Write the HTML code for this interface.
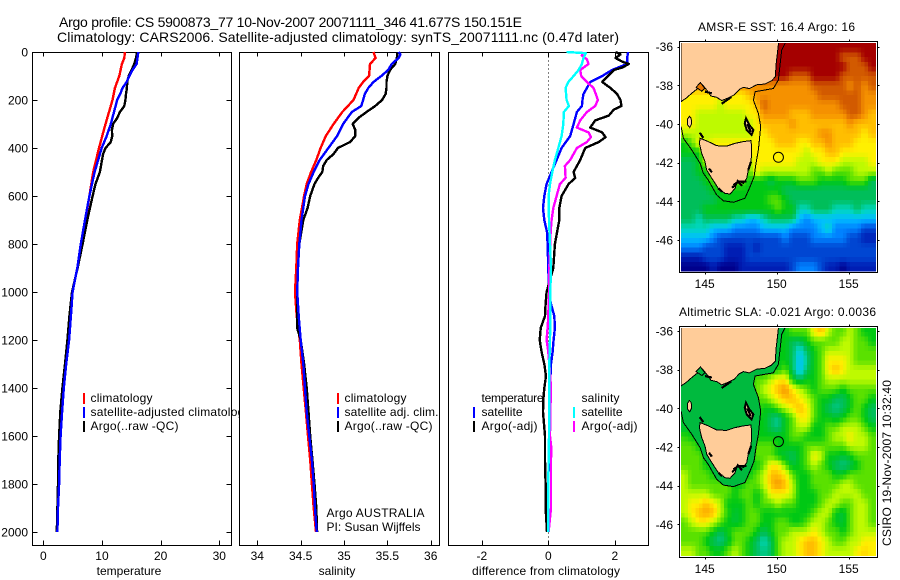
<!DOCTYPE html>
<html lang="en">
<head>
<meta charset="utf-8">
<title>Argo profile</title>
<style>
html,body{margin:0;padding:0;background:#fff;width:900px;height:580px;overflow:hidden}
svg{display:block}
text{font-family:"Liberation Sans",sans-serif;font-size:12px;fill:#000}
.ttl{font-size:14px}
</style>
</head>
<body>
<svg id="fig" xmlns="http://www.w3.org/2000/svg" width="900" height="580" viewBox="0 0 900 580">
  <rect x="0" y="0" width="900" height="580" fill="#fff"/>
  <text class="ttl" x="59" y="27" textLength="463">Argo profile: CS 5900873_77 10-Nov-2007 20071111_346 41.677S 150.151E</text>
  <text class="ttl" x="57" y="42" textLength="562">Climatology: CARS2006. Satellite-adjusted climatology: synTS_20071111.nc (0.47d later)</text>
  <g id="layer-p1"></g>
  <g id="layer-p2"></g>
  <g id="layer-p3"></g>
  <g id="layer-m1"></g>
  <g id="layer-m2"></g>

  <text x="129" y="575" text-anchor="middle">temperature</text>
  <text x="337" y="575" text-anchor="middle">salinity</text>
  <text x="546" y="575" text-anchor="middle" textLength="148">difference from climatology</text>

  <text x="698" y="31" textLength="157">AMSR-E SST: 16.4 Argo: 16</text>
  <text x="679" y="316" textLength="197">Altimetric SLA: -0.021 Argo: 0.0036</text>
  <text transform="translate(891,546) rotate(-90)" textLength="166">CSIRO 19-Nov-2007 10:32:40</text>
</svg>
<script>
/* ---------- profile data (depth in dbar) ---------- */
const depthTicks = [0,200,400,600,800,1000,1200,1400,1600,1800,2000];
const tempTicks = [0,10,20,30];
const salTicks = [34,34.5,35,35.5,36];
const salTickLabels = ['34','34.5','35','35.5','36'];
const diffTicks = [-2,0,2];

const tempClimDepth = [0,25,50,100,150,200,300,400,500,600,700,800,900,1000,1100,1200,1300,1400,1500,1600,1700,1800,1900,2000];
const tempClim = [13.9,13.8,13.4,12.95,12.2,11.8,10.6,9.5,8.5,7.85,7.2,6.5,5.8,5.0,4.6,4.25,3.85,3.45,3.15,2.9,2.75,2.65,2.5,2.4];

const tempSatDepth = [0,50,75,100,125,150,175,200,250,300,350,400,500,600,700,800,900,1000,1100,1200,1300,1400,1500,1600,1700,1800,1900,2000];
const tempSat = [16.2,15.9,15.2,14.65,14.2,13.5,13.1,12.6,12.05,11.5,10.8,9.95,8.75,7.85,7.1,6.4,5.8,5.0,4.7,4.4,3.9,3.5,3.2,2.95,2.8,2.7,2.5,2.4];

const tempArgoDepth = [0,25,50,75,100,125,150,175,200,225,250,275,300,325,350,375,400,425,450,500,550,600,700,800,900,1000,1100,1200,1300,1400,1500,1600,1700,1800,1900,2000];
const tempArgo = [16,15.8,15.5,15.05,14.55,14.3,14.25,14.1,14,13.8,13.05,12.6,11.9,11.7,11.75,11.5,10.6,10.2,10,9.65,8.9,8.4,7.5,6.7,5.85,4.9,4.45,4.1,3.7,3.25,2.9,2.7,2.55,2.5,2.4,2.3];

const salClimDepth = [0,10,25,50,100,125,150,200,250,300,350,400,450,500,550,600,700,800,900,1000,1100,1200,1300,1400,1500,1600,1700,1800,1900,2000];
const salClim = [35.34,35.35,35.365,35.3,35.29,35.22,35.17,35.11,34.98,34.88,34.79,34.73,34.68,34.62,34.57,34.54,34.49,34.46,34.45,34.435,34.455,34.49,34.51,34.535,34.56,34.585,34.61,34.63,34.65,34.677];

const salSatDepth = [0,10,25,50,75,100,125,150,175,200,225,250,300,350,400,450,500,550,600,700,800,900,1000,1100,1200,1300,1400,1500,1600,1700,1800,1900,2000];
const salSat = [35.63,35.65,35.63,35.55,35.51,35.43,35.34,35.28,35.24,35.22,35.2,35.09,34.99,34.92,34.82,34.72,34.65,34.59,34.55,34.51,34.485,34.47,34.46,34.477,34.5,34.53,34.55,34.57,34.6,34.63,34.65,34.665,34.685];

const salArgoDepth = [0,25,50,75,100,125,150,175,200,225,250,275,300,325,350,375,400,425,450,475,500,525,550,600,650,700,800,900,1000,1100,1150,1200,1300,1400,1500,1600,1700,1800,1900,2000];
const salArgo = [35.615,35.61,35.59,35.53,35.5,35.49,35.49,35.48,35.44,35.36,35.26,35.165,35.1,35.13,35.13,35.07,34.93,34.88,34.8,34.76,34.75,34.7,34.66,34.61,34.58,34.53,34.485,34.47,34.46,34.46,34.46,34.5,34.54,34.57,34.59,34.61,34.635,34.66,34.68,34.69];

const diffTempSatDepth = [0,25,50,75,100,125,150,175,200,225,250,300,350,400,450,500,550,600,650,700,750,800,900,1000,1050,1100,1150,1200,1250,1300,1400,1600,1800,2000];
const diffTempSat = [2.4,2.37,2.37,1.92,1.62,1.26,1.16,1.06,1.03,1.01,.86,.76,.66,.4,.25,.1,-.05,-.12,-.16,-.12,-.04,-.02,0,.02,.08,.18,.2,.16,.13,.08,.05,.03,0,0];

const diffTempArgoDepth = [0,10,25,40,50,65,75,100,125,150,175,200,225,240,265,285,315,335,355,375,400,450,500,525,550,600,650,700,800,900,1000,1050,1100,1150,1200,1250,1300,1350,1400,1450,1500,1550,1600,1700,1800,1900,2000];
const diffTempArgo = [2.02,2.17,2.02,2.22,2.42,2.22,1.97,1.8,1.62,1.87,2.07,2.17,2.2,1.97,1.82,1.41,1.26,1.62,1.72,1.52,1.11,.96,.76,.81,.61,.4,.33,.33,.2,.15,-.05,-.08,-.1,-.23,-.26,-.2,-.12,-.07,-.12,-.15,-.16,-.13,-.1,-.1,-.08,-.08,-.04];

const diffSalArgoDepth = [0,15,30,50,75,100,125,150,175,200,225,250,285,315,335,355,375,400,450,475,525,550,600,650,700,750,800,900,1000,1050,1100,1150,1200,1250,1300,1400,1500,1600,1650,1700,1800,1900,2000];
const diffSalArgo = [1.06,1.01,1.16,1.21,.96,.99,1.16,1.36,1.43,1.49,1.41,1.16,.96,.86,1.21,1.28,1.16,.86,.66,.5,.52,.35,.25,.15,.1,.07,.06,.03,.03,.01,0,-.02,-.05,0,.03,.08,.06,.05,.09,.08,.08,.08,.01];

const diffSalSatDepth = [0,5,25,50,75,100,125,150,200,225,250,300,350,400,450,500,550,600,700,800,900,1000,1100,1200,1300,1400,1500,1600,1700,1800,1900,2000];
const diffSalSat = [.55,1.13,1.06,1.01,.91,.76,.6,.52,.55,.62,.47,.45,.4,.3,.2,.12,.05,.01,.02,.05,.08,.06,.06,.05,.03,.03,.03,.02,.01,0,0,0];

/* ---------- satellite fields (colour-scale level per cell) ---------- */
const sstGrid = [
[14,14,14,14,14,14,14,14,14,14,14,14,14,14,14,14,14,14,14,14,14,14,14,14,14,14,14],
[14,14,14,14,14,14,14,14,14,14,14,14,14,14,14,14,14,14,14,14,14,14,13,13,13,14,14],
[14,14,14,14,14,14,14,14,14,14,14,14,14,14,14,14,14,14,14,14,14,14,14,13,13,13,14],
[14,14,14,14,14,14,14,14,14,14,14,14,14,14,14,13,13,13,14,14,14,14,13,13,13,13,13],
[12,12,12,12,12,12,12,12,12,12,12,12,12,12,12,12,12,12,13,13,13,13,13,12,13,12,13],
[10,10,10,10,10,10,10,10,10,11,12,12,12,12,12,12,12,12,12,13,13,13,13,13,13,12,12],
[10,10,10,10,10,9,10,10,10,10,11,13,12,12,12,12,12,12,12,12,12,12,13,13,13,12,12],
[10,10,9,9,9,9,9,9,9,10,10,12,12,12,12,11,11,11,12,12,12,12,12,13,13,12,11],
[10,10,9,9,9,9,9,9,9,9,10,11,11,11,11,12,11,11,11,11,11,11,11,12,11,11,11],
[9,9,9,9,9,9,9,9,9,9,10,10,11,11,11,11,11,11,11,12,12,11,11,11,11,10,11],
[7,8,10,9,10,10,10,10,10,10,10,10,10,11,11,11,10,10,11,11,12,11,11,11,10,10,10],
[7,7,7,10,10,10,10,10,10,10,10,10,10,10,10,10,10,9,10,10,11,11,10,10,10,10,10],
[6,6,7,9,9,9,9,9,9,9,10,10,10,10,10,10,9,9,9,10,10,10,9,9,9,9,10],
[6,6,7,7,8,8,8,8,8,8,10,9,9,9,9,9,9,9,8,8,9,8,8,8,9,9,9],
[6,6,6,7,8,8,8,8,8,7,7,7,6,7,7,7,8,8,8,7,7,7,7,8,8,8,6],
[6,6,6,6,7,7,7,7,7,7,7,7,7,7,6,6,6,6,6,6,6,6,6,6,6,6,6],
[6,6,6,6,6,7,7,7,7,7,7,7,8,8,7,6,6,6,6,6,6,6,6,6,6,6,6],
[6,6,6,7,7,7,7,7,7,7,7,7,7,8,7,7,5,5,6,6,6,5,5,5,6,5,5],
[6,6,5,6,6,6,6,5,5,4,4,5,6,6,6,6,4,3,4,4,4,4,4,4,4,4,4],
[5,5,5,5,4,4,4,3,3,3,3,4,4,4,4,3,3,3,3,4,5,3,3,3,3,2,2],
[4,4,4,4,3,2,2,2,2,2,2,2,2,2,3,2,2,2,3,3,3,3,3,2,2,1,1],
[3,3,3,2,2,2,1,1,1,2,1,2,2,2,2,2,2,2,2,2,2,2,2,2,2,2,2],
[1,1,1,2,2,2,1,1,1,2,2,2,2,2,2,2,2,2,2,2,2,2,2,2,2,2,2],
[0,0,0,0,1,0,0,0,1,1,1,1,1,1,1,2,3,3,3,2,1,1,0,1,1,1,1]
];
const slaGrid = [
[7,7,7,7,7,7,7,7,7,7,7,7,7,7,7,8,8,8,10,11,9,8,8,9,8,7,7],
[7,7,7,7,7,7,7,7,7,7,7,7,7,7,7,6,6,7,8,8,8,8,9,9,8,8,7],
[7,7,7,7,7,7,7,7,7,7,7,7,7,7,7,6,4.5,6,7,8,9,9,9,9,8,8,8],
[7,7,7,7,7,7,7,7,7,7,7,7,7,7,7,6,4,5.5,7,8,10,10,10,9,8,8,8],
[7,7,7,7,7,7,7,7,7,7,7,7,7,7,8,6,4,6,7,8,10,11,10,9,9,9,9],
[7,7,7,7,7,7,7,7,7,7,8,8,9,10,10,7,6,7,7,8,9,9,9,9,9,9,9],
[7,7,7,7,7,7,7,7,7,7,8,9,10,11,12,10,9,8,7,8,8,8,7,8,8,8,8],
[7,7,7,7,7,7,7,7,7,7,8,8,9,10,11,11,10,9,8,7,7,6,6,7,8,8,7],
[7,7,7,7,7,7,7,7,7,7,8,7,7,8,9,10,11,10,8,7,6,5.5,6,7,8,7,6],
[7,7,7,7,7,7,7,7,7,7,7,7,6,5.5,7,8,10,10,8,7,7,6.5,7,8,8,7,6],
[6.5,7,7,7,7,7,7,7,7,7,7,7,6,5.5,7,8,9,9,7,7,8,8,9,9,9,8,7],
[7.5,7,7,7,7,7,7,7,7,7,7,7,7,7,7,8,8,7,7,7,8,9,9,10,9,9,8],
[8,8,7,7,7,7,7,7,7,7,8,8,8,7,7,7,7,8,8,8,8,8,8,9,9,9,8],
[8,8,8,7,7,7,7,7,7,7,8,8,8,7,6.5,6,7,8,10,9,7,7,6.5,7,8,8,8],
[8,8,8,7,7,7,7,7,7,7,7,8,10,10,8,6.5,7,8,9,8,7,6,5.5,6,7,8,8],
[9,8,8,8,7,7,7,7,7,7,8,9,11,11,10,8,7,7,8,8,8,7,7,8,8,8,8],
[9,8,8,8,8,8,8,7,7,8,8,9,11,12,11,9,7,7,8,8,8,8,9,9,8,8,8],
[9,9,9,9,8,8,8,7,8,8,7,8,10,10,10,9,7,7,7,8,8,9,9,9,9,8,8],
[9,10,10,11,10,9,7,7,7,8,7,8,8,9,8,8,7,7,7,8,9,9,8,8,9,9,8],
[9,10,11,11.5,11,9,7.5,6.5,7,8,8,7,7,7,7,7,7,7,8,9,9,7,6.5,8,9,9,8],
[8,9,10,10,9,8,7,6.5,7,8,8,7,7,8,8,7,7,8,9,9,8,7,6.5,8,9,9,8],
[8,8,8,8,7,6,7,8,8,8,7,6,7,8,8,9,9,9,10,9,8,8,7,8,9,9,9],
[8,8,8,7,6,5.5,6.5,8,8,7,6,5,6,8,9,9,10,11,11,10,9,8,8,9,9,10,10],
[9,9,8,8,7,7,8,9,8,7,6,5.5,6,8,9,9,10,11,11,10,9,9,9,9,10,10.5,10]
];
const lonTicks = [145,150,155];
const latTicks = [-36,-38,-40,-42,-44,-46];
const floatLon = [150.12];
const floatLat = [-41.72];

/* coastline geography, lon / lat degrees */
const mainlandLon = [143.35,150.14,150.05,149.95,149.91,149.65,149.19,148.61,148.1,147.69,147.41,147.04,146.57,146.18,145.83,145.44,145.14,144.86,144.44,144.1,143.7,143.36];
const mainlandLat = [-35.72,-35.72,-36.34,-36.95,-37.55,-37.76,-37.93,-37.97,-38.17,-38.1,-38.21,-38.5,-38.67,-38.79,-38.62,-38.55,-38.24,-37.98,-38.21,-38.41,-38.67,-38.84];
const tasmaniaLon = [144.68,145.25,145.83,146.53,147.11,147.69,148.22,148.26,148.22,148.03,147.92,147.69,147.27,147.11,146.76,146.41,145.95,145.72,145.49,145.14,145.02,144.79,144.63];
const tasmaniaLat = [-40.74,-40.91,-41.12,-41.14,-41,-40.91,-40.86,-41.34,-41.95,-42.38,-42.81,-43.07,-42.9,-43.33,-43.62,-43.59,-43.33,-43.07,-42.81,-42.38,-41.95,-41.52,-41];
const flindersLon = [147.87,148.1,148.38,148.26,147.92,147.78];
const flindersLat = [-39.71,-40.05,-40.31,-40.57,-40.31,-39.97];
const kingLon = [143.94,144.06,144.08,143.96,143.82,143.8];
const kingLat = [-39.6,-39.7,-40.0,-40.18,-40.05,-39.75];
const bayLon = [144.4,144.7,145.0,144.8];
const bayLat = [-38.1,-37.85,-38.15,-38.3];
const contourLon = [143.36,143.52,144.1,144.68,144.91,145.25,145.83,146.3,146.99,147.8,148.15,148.43,148.56,148.73,148.89,148.73,148.38,148.5,149.77,150.12,150.35,150.65];
const contourLat = [-40.14,-40.74,-41.34,-42.03,-42.55,-42.9,-43.67,-43.97,-44.05,-43.84,-43.24,-42.72,-42.03,-41.34,-40.14,-39.45,-38.76,-38.33,-38.16,-37.72,-36.17,-35.72];
const inletLons = [[147,147.34,147.92],[148.22,148.03],[145.02,145.49],[144.65,144.9],[146.18,146.85],[145.95,146.2],[147.35,147.6],[147.95,148.2],[146.9,147.2],[145.3,145.5]];
const inletLats = [[-43.16,-42.98,-42.98],[-41.95,-42.38],[-38.33,-38.41],[-40.45,-40.72],[-38.95,-38.6],[-43.33,-43.5],[-43,-43.2],[-40,-40.4],[-43.3,-43.1],[-42.3,-42.5]];

/* ---------- drawing ---------- */
const NS = 'http://www.w3.org/2000/svg';
const PANEL_TOP = 52.5, PANEL_BOTTOM = 545.5, PX_PER_DBAR = 0.24;
function depthY(p){ return 52 + p * PX_PER_DBAR; }
function tempX(t){ return 43.3 + 5.867 * t; }
function salX(s){ return 257.3 + 86.7 * (s - 34); }
function diffX(d){ return 548.3 + 33.25 * d; }

function svgEl(parent, tag, attrs, txt){
  const el = document.createElementNS(NS, tag);
  for (const k in attrs) el.setAttribute(k, attrs[k]);
  if (txt !== undefined) el.textContent = txt;
  parent.appendChild(el);
  return el;
}
function drawFrame(g, left, right, name){
  const el = svgEl(g, 'rect', {x:left, y:PANEL_TOP, width:right-left, height:PANEL_BOTTOM-PANEL_TOP, fill:'#fff', stroke:'#000', 'stroke-width':1, 'shape-rendering':'crispEdges'});
  
  
}
function drawTick(g, x1, y1, x2, y2, name){
  const el = svgEl(g, 'line', {x1:x1, y1:y1, x2:x2, y2:y2, stroke:'#000', 'stroke-width':1, 'shape-rendering':'crispEdges'});
  
  
}
function drawLabel(g, x, y, anchor, str, name){
  const el = svgEl(g, 'text', {x:x, y:y, 'text-anchor':anchor}, str);
  
  
  return el;
}
function drawProfile(g, values, depths, xFn, color, name){
  const pts = values.map(function(v, i){ return xFn(v).toFixed(1) + ',' + depthY(depths[i]).toFixed(1); }).join(' ');
  const el = svgEl(g, 'polyline', {points:pts, fill:'none', stroke:color, 'stroke-width':2.4, 'shape-rendering':'crispEdges', 'stroke-linejoin':'round'});
  
  
}
function drawXTicks(g, ticks, labels, xFn, prefix, topTicks){
  ticks.forEach(function(t, i){
    const x = Math.round(xFn(t)) + 0.5;
    if (topTicks) drawTick(g, x, PANEL_TOP, x, PANEL_TOP + 4, prefix + '-top-tick');
    drawTick(g, x, PANEL_BOTTOM, x, PANEL_BOTTOM - 5, prefix + '-bottom-tick');
    drawLabel(g, xFn(t), 560, 'middle', labels[i], prefix + '-tick-label');
  });
}
function drawLegendRow(g, lineX, textX, rowY, baseY, color, str, name, width){
  if (color) {
    const el = svgEl(g, 'line', {x1:lineX, y1:rowY, x2:lineX, y2:rowY + 11, stroke:color, 'stroke-width':2, 'shape-rendering':'crispEdges'});
    
    
  }
  const label = drawLabel(g, textX, baseY, 'start', str, name);
  label.setAttribute('textLength', width);
}

/* Panel 1 */
const p1 = document.getElementById('layer-p1');
drawFrame(p1, 32.5, 231.5, 'temperature-axes');
depthTicks.forEach(function(d){
  const y = Math.round(depthY(d)) + 0.5;
  drawTick(p1, 32.5, y, 37.5, y, 'depth-left-tick');
  drawTick(p1, 231.5, y, 226.5, y, 'depth-right-tick');
  drawLabel(p1, 28, depthY(d) + 4.5, 'end', String(d), 'depth-tick-label');
});
drawXTicks(p1, tempTicks, tempTicks.map(String), tempX, 'temperature', true);
drawProfile(p1, tempClim, tempClimDepth, tempX, '#f00', 'temperature-climatology-line');
drawProfile(p1, tempArgo, tempArgoDepth, tempX, '#000', 'temperature-argo-line');
drawProfile(p1, tempSat, tempSatDepth, tempX, '#00f', 'temperature-satellite-line');
drawLegendRow(p1, 84, 90.5, 393, 402, '#f00', 'climatology', 'temperature-legend-climatology', 62);
drawLegendRow(p1, 84, 90.5, 407, 416, '#00f', 'satellite-adjusted climatology', 'temperature-legend-satellite', 160);
drawLegendRow(p1, 84, 90.5, 421, 430, '#000', 'Argo(..raw -QC)', 'temperature-legend-argo', 88);

/* Panel 2 (opaque background clips the long legend entry) */
const p2 = document.getElementById('layer-p2');
drawFrame(p2, 239.5, 439.5, 'salinity-axes');
drawXTicks(p2, salTicks, salTickLabels, salX, 'salinity', true);
drawProfile(p2, salClim, salClimDepth, salX, '#f00', 'salinity-climatology-line');
drawProfile(p2, salArgo, salArgoDepth, salX, '#000', 'salinity-argo-line');
drawProfile(p2, salSat, salSatDepth, salX, '#00f', 'salinity-satellite-line');
drawLegendRow(p2, 338, 344.5, 393, 402, '#f00', 'climatology', 'salinity-legend-climatology', 62);
drawLegendRow(p2, 338, 344.5, 407, 416, '#00f', 'satellite adj. clim.', 'salinity-legend-satellite', 94);
drawLegendRow(p2, 338, 344.5, 421, 430, '#000', 'Argo(..raw -QC)', 'salinity-legend-argo', 88);
drawLegendRow(p2, 0, 326.5, 0, 517, null, 'Argo AUSTRALIA', 'float-owner-label', 98);
drawLegendRow(p2, 0, 326.5, 0, 531, null, 'PI: Susan Wijffels', 'principal-investigator-label', 94);

/* Panel 3 */
const p3 = document.getElementById('layer-p3');
drawFrame(p3, 448.5, 648.5, 'difference-axes');
drawXTicks(p3, diffTicks, ['-2','0','2'], diffX, 'difference', true);
const zeroLine = svgEl(p3, 'line', {x1:Math.round(diffX(0)) + 0.5, y1:PANEL_TOP, x2:Math.round(diffX(0)) + 0.5, y2:PANEL_BOTTOM, stroke:'#000', 'stroke-width':1, 'stroke-dasharray':'1 3', 'shape-rendering':'crispEdges'});


drawProfile(p3, diffTempSat, diffTempSatDepth, diffX, '#00f', 'difference-temperature-satellite-line');
drawProfile(p3, diffTempArgo, diffTempArgoDepth, diffX, '#000', 'difference-temperature-argo-line');
drawProfile(p3, diffSalArgo, diffSalArgoDepth, diffX, '#f0f', 'difference-salinity-argo-line');
drawProfile(p3, diffSalSat, diffSalSatDepth, diffX, '#0ff', 'difference-salinity-satellite-line');
drawLegendRow(p3, 474, 481.5, 393, 402, null, 'temperature', 'legend-temperature-heading', 62);
drawLegendRow(p3, 474, 481.5, 407, 416, '#00f', 'satellite', 'legend-temperature-satellite', 41);
drawLegendRow(p3, 474, 481.5, 421, 430, '#000', 'Argo(-adj)', 'legend-temperature-argo', 56);
drawLegendRow(p3, 574, 581.5, 393, 402, null, 'salinity', 'legend-salinity-heading', 38);
drawLegendRow(p3, 574, 581.5, 407, 416, '#0ff', 'satellite', 'legend-salinity-satellite', 41);
drawLegendRow(p3, 574, 581.5, 421, 430, '#f0f', 'Argo(-adj)', 'legend-salinity-argo', 56);

/* Maps */
const colorStops = [[0,0,140],[0,30,180],[0,70,210],[0,130,255],[0,190,255],[0,215,190],[0,190,90],[0,200,20],[90,225,0],[190,250,0],[255,240,0],[255,190,0],[245,145,0],[210,90,0],[165,0,0]];
function levelColor(v){
  const i = Math.min(Math.floor(v), colorStops.length - 2), f = v - i;
  const a = colorStops[i], b = colorStops[i + 1];
  return 'rgb(' + a.map(function(c, k){ return Math.round(c + (b[k] - c) * f); }).join(',') + ')';
}
function lonX(lon){ return 704.7 + (lon - 145) * 14.4; }
const GRID_LON0 = 143.35, GRID_LAT0 = -35.8, GRID_DLON = 0.5, GRID_DLAT = 0.4925, SUB = 2;

/* bilinear sample of a field at fractional row / column (cell centres at integers) */
function sampleGrid(grid, r, c){
  const rows = grid.length, cols = grid[0].length;
  const rr = Math.max(0, Math.min(rows - 1, r)), cc = Math.max(0, Math.min(cols - 1, c));
  const r0 = Math.floor(rr), c0 = Math.floor(cc);
  const r1 = Math.min(rows - 1, r0 + 1), c1 = Math.min(cols - 1, c0 + 1);
  const fr = rr - r0, fc = cc - c0;
  return (grid[r0][c0] * (1 - fc) + grid[r0][c1] * fc) * (1 - fr) + (grid[r1][c0] * (1 - fc) + grid[r1][c1] * fc) * fr;
}

function drawMap(id, grid, lat36Y, prefix, shelfFill, bayFill){
  const g = document.getElementById(id);
  const latY = function(lat){ return lat36Y + (-36 - lat) * 19.33; };
  const frameTop = Math.round(lat36Y - 5.4) + 0.5;
  const frameBottom = frameTop + 231;
  const frame = svgEl(g, 'rect', {x:679.5, y:frameTop, width:198, height:231, fill:'#fff', stroke:'#000', 'stroke-width':1, 'shape-rendering':'crispEdges'});
  
  

  const clipId = prefix + '-clip';
  const defs = svgEl(g, 'defs', {});
  const clip = svgEl(defs, 'clipPath', {id:clipId});
  svgEl(clip, 'rect', {x:681, y:frameTop + 1.5, width:195, height:228.5});

  const cellsGroup = svgEl(g, 'g', {'clip-path':'url(#' + clipId + ')'});
  
  
  for (let r = 0; r < grid.length * SUB; r++) {
    for (let c = 0; c < grid[0].length * SUB; c++) {
      const v = sampleGrid(grid, (r + 0.5) / SUB - 0.5, (c + 0.5) / SUB - 0.5);
      const x0 = lonX(GRID_LON0 + c * GRID_DLON / SUB), x1 = lonX(GRID_LON0 + (c + 1) * GRID_DLON / SUB);
      const y0 = latY(GRID_LAT0 - r * GRID_DLAT / SUB), y1 = latY(GRID_LAT0 - (r + 1) * GRID_DLAT / SUB);
      const cell = svgEl(cellsGroup, 'rect', {x:x0.toFixed(2), y:y0.toFixed(2), width:(x1 - x0 + 0.6).toFixed(2), height:(y1 - y0 + 0.6).toFixed(2), fill:levelColor(v), 'shape-rendering':'crispEdges'});
      
      
    }
  }

  const ptsOf = function(lons, lats){ return lons.map(function(l, i){ return lonX(l).toFixed(1) + ',' + latY(lats[i]).toFixed(1); }).join(' '); };
  const art = svgEl(g, 'g', {'clip-path':'url(#' + clipId + ')'});
  
  

  if (shelfFill) {
    const shelf = svgEl(art, 'polygon', {points:ptsOf(contourLon, contourLat) + ' ' + lonX(143.3) + ',' + latY(-35.7), fill:shelfFill, 'shape-rendering':'crispEdges'});
    
    
  }
  const contour = svgEl(art, 'polyline', {points:ptsOf(contourLon, contourLat), fill:'none', stroke:'#000', 'stroke-width':1, 'shape-rendering':'crispEdges'});
  
  

  const landShapes = [[mainlandLon, mainlandLat, 'mainland', 1], [tasmaniaLon, tasmaniaLat, 'tasmania', 1], [flindersLon, flindersLat, 'flinders-island', 2], [kingLon, kingLat, 'king-island', 1]];
  landShapes.forEach(function(s){
    const land = svgEl(art, 'polygon', {points:ptsOf(s[0], s[1]), fill:'#ffcc99', stroke:'#000', 'stroke-width':s[3], 'shape-rendering':'crispEdges'});
    
    
  });
  const bay = svgEl(art, 'polygon', {points:ptsOf(bayLon, bayLat), fill:bayFill, stroke:'#000', 'stroke-width':1, 'shape-rendering':'crispEdges'});
  
  
  inletLons.forEach(function(lons, i){
    const inlet = svgEl(art, 'polyline', {points:ptsOf(lons, inletLats[i]), fill:'none', stroke:'#000', 'stroke-width':2.2, 'shape-rendering':'crispEdges'});
    
    
  });

  const marker = svgEl(g, 'circle', {cx:lonX(floatLon[0]), cy:latY(floatLat[0]), r:5, fill:'none', stroke:'#000', 'stroke-width':1});
  
  

  lonTicks.forEach(function(lon){
    const x = Math.round(lonX(lon)) + 0.5;
    drawTick(g, x, frameTop, x, frameTop - 2, prefix + '-top-tick');
    drawTick(g, x, frameBottom, x, frameBottom + 2, prefix + '-bottom-tick');
    drawLabel(g, lonX(lon), frameBottom + 15.5, 'middle', String(lon), prefix + '-longitude-label');
  });
  latTicks.forEach(function(lat){
    const y = Math.round(latY(lat)) + 0.5;
    drawTick(g, 679.5, y, 677.5, y, prefix + '-left-tick');
    drawTick(g, 877.5, y, 879.5, y, prefix + '-right-tick');
    drawLabel(g, 673, latY(lat) + 4.5, 'end', String(lat), prefix + '-latitude-label');
  });
}
drawMap('layer-m1', sstGrid, 46.7, 'sst-map', null, 'rgb(230,120,0)');
drawMap('layer-m2', slaGrid, 331, 'sla-map', 'rgb(0,186,62)', 'rgb(0,186,62)');
</script>
</body>
</html>
